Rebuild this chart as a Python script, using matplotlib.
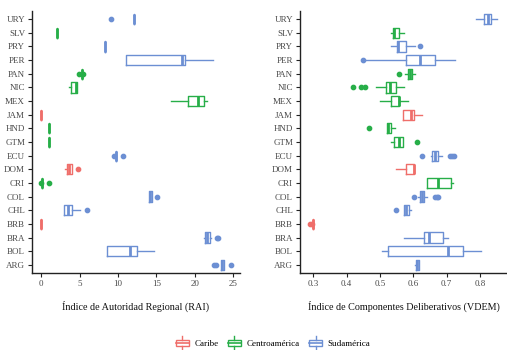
import matplotlib
matplotlib.use("Agg")
import matplotlib.pyplot as plt
from matplotlib.legend_handler import HandlerBase
from matplotlib.patches import Rectangle
from matplotlib.lines import Line2D

plt.rcParams['font.family'] = ['Liberation Serif', 'DejaVu Serif']

# categories, bottom to top
countries = ["ARG", "BOL", "BRA", "BRB", "CHL", "COL", "CRI", "DOM", "ECU", "GTM",
             "HND", "JAM", "MEX", "NIC", "PAN", "PER", "PRY", "SLV", "URY"]
region = ["Sudamérica", "Sudamérica", "Sudamérica", "Caribe", "Sudamérica", "Sudamérica",
          "Centroamérica", "Caribe", "Sudamérica", "Centroamérica", "Centroamérica", "Caribe",
          "Centroamérica", "Centroamérica", "Centroamérica", "Sudamérica", "Sudamérica",
          "Centroamérica", "Sudamérica"]
regions = ["Caribe", "Centroamérica", "Sudamérica"]
region_colors = {"Caribe": "#EF6E6A", "Centroamérica": "#27AE48", "Sudamérica": "#6C8FD3"}

# RAI box statistics
rai_q1 = [23.42, 8.57, 21.40, 0.0, 2.99, 14.06, 0.09, 3.30, 9.71, 1.01,
          1.01, 0.0, 19.11, 3.87, 5.32, 11.07, 8.26, 2.02, 12.08]
rai_med = [23.55, 11.56, 21.66, 0.0, 3.51, 14.20, 0.09, 3.60, 9.71, 1.01,
           1.01, 0.0, 20.39, 4.53, 5.32, 18.28, 8.26, 2.02, 12.08]
rai_q3 = [23.77, 12.52, 21.97, 0.0, 4.00, 14.40, 0.09, 4.00, 9.71, 1.01,
          1.01, 0.0, 21.22, 4.61, 5.32, 18.76, 8.26, 2.02, 12.08]
rai_lo = [23.42, 8.57, 21.22, 0.0, 2.99, 14.06, 0.09, 3.12, 9.71, 1.01,
          1.01, 0.0, 16.87, 3.56, 5.32, 11.07, 8.26, 2.02, 12.08]
rai_hi = [23.77, 14.72, 22.10, 0.0, 5.05, 14.40, 0.09, 4.00, 9.71, 1.01,
          1.01, 0.0, 21.66, 4.61, 5.32, 22.32, 8.26, 2.02, 12.08]
rai_out = [[22.50, 22.76, 24.74], [], [22.85, 23.00], [], [6.02], [15.07], [0.0, 1.05],
           [4.75], [9.45, 10.72], [], [], [], [], [], [4.96, 5.49], [], [], [], [9.05]]

# VDEM box statistics
vd_q1 = [0.609, 0.525, 0.632, 0.300, 0.573, 0.620, 0.641, 0.579, 0.656, 0.543,
         0.522, 0.570, 0.534, 0.517, 0.585, 0.579, 0.552, 0.540, 0.811]
vd_med = [0.611, 0.705, 0.648, 0.300, 0.577, 0.625, 0.675, 0.601, 0.664, 0.557,
          0.523, 0.593, 0.556, 0.529, 0.590, 0.621, 0.553, 0.543, 0.823]
vd_q3 = [0.617, 0.748, 0.689, 0.300, 0.588, 0.632, 0.714, 0.603, 0.674, 0.570,
         0.534, 0.603, 0.557, 0.549, 0.597, 0.666, 0.579, 0.558, 0.833]
vd_lo = [0.606, 0.507, 0.573, 0.300, 0.573, 0.614, 0.641, 0.548, 0.653, 0.534,
         0.522, 0.570, 0.501, 0.487, 0.576, 0.451, 0.534, 0.534, 0.787]
vd_hi = [0.617, 0.803, 0.705, 0.300, 0.594, 0.640, 0.720, 0.603, 0.687, 0.570,
         0.545, 0.627, 0.583, 0.571, 0.605, 0.724, 0.604, 0.571, 0.851]
vd_out = [[], [], [], [0.290, 0.295], [0.547], [0.601, 0.664, 0.670, 0.674], [], [],
          [0.625, 0.711, 0.716, 0.721], [0.612], [0.466], [], [], [0.418, 0.442, 0.454],
          [0.556], [0.450], [0.619], [], []]

W, H = 507, 350
fig = plt.figure(figsize=(W / 100, H / 100), dpi=100)
ax1 = fig.add_axes([32 / W, 1 - 273 / H, 208 / W, 262 / H])
ax2 = fig.add_axes([300 / W, 1 - 273 / H, 207 / W, 262 / H])

ink = "#222222"


def draw(ax, q1, med, q3, lo, hi, out, xlim, xticks, xticklabels, title):
    for i, c in enumerate(countries):
        col = region_colors[region[i]]
        st = dict(q1=q1[i], med=med[i], q3=q3[i], whislo=lo[i], whishi=hi[i],
                  fliers=out[i], label=c)
        ax.bxp([st], positions=[i + 1], widths=0.75, vert=False, showcaps=False,
               patch_artist=False,
               boxprops=dict(color=col, linewidth=1.0),
               whiskerprops=dict(color=col, linewidth=1.0),
               medianprops=dict(color=col, linewidth=2.0, solid_capstyle='butt'),
               flierprops=dict(marker='o', markerfacecolor=col, markeredgecolor=col,
                               markersize=3.1, linestyle='none'))
    ax.set_ylim(0.4, len(countries) + 0.6)
    ax.set_yticks(range(1, len(countries) + 1))
    ax.set_yticklabels(countries)
    ax.set_xlim(*xlim)
    ax.set_xticks(xticks)
    ax.set_xticklabels(xticklabels)
    for s in ["top", "right"]:
        ax.spines[s].set_visible(False)
    for s in ["left", "bottom"]:
        ax.spines[s].set_color(ink)
        ax.spines[s].set_linewidth(1.0)
    ax.tick_params(axis='both', length=3, width=0.8, color=ink, labelsize=6.5,
                   labelcolor="#4a4a4a", pad=2)
    ax.set_xlabel(title, fontsize=7.3, color="#111111", labelpad=9)


draw(ax1, rai_q1, rai_med, rai_q3, rai_lo, rai_hi, rai_out, (-1.2, 25.9),
     [0, 5, 10, 15, 20, 25], ["0", "5", "10", "15", "20", "25"],
     "Índice de Autoridad Regional (RAI)")
draw(ax2, vd_q1, vd_med, vd_q3, vd_lo, vd_hi, vd_out, (0.26, 0.881),
     [0.3, 0.4, 0.5, 0.6, 0.7, 0.8], ["0.3", "0.4", "0.5", "0.6", "0.7", "0.8"],
     "Índice de Componentes Deliberativos (VDEM)")


class BoxKey(HandlerBase):
    def __init__(self, color):
        super().__init__()
        self.color = color

    def create_artists(self, legend, orig_handle, xdescent, ydescent, width, height,
                       fontsize, trans):
        c = self.color
        bw = width * 0.92
        x0 = (width - bw) / 2 - xdescent
        bh = height * 0.6
        y0 = (height - bh) / 2 - ydescent
        rect = Rectangle((x0, y0), bw, bh, facecolor='white', edgecolor=c,
                         linewidth=1.0, transform=trans)
        midy = y0 + bh / 2
        medl = Line2D([x0, x0 + bw], [midy, midy], color=c, linewidth=1.2, transform=trans)
        cx = x0 + bw / 2
        wt = Line2D([cx, cx], [y0 + bh, height - ydescent + 1.5], color=c, linewidth=1.0,
                    transform=trans)
        wb = Line2D([cx, cx], [y0, -ydescent - 1.5], color=c, linewidth=1.0, transform=trans)
        return [rect, medl, wt, wb]


handles = [Rectangle((0, 0), 1, 1) for _ in regions]
hmap = {h: BoxKey(region_colors[r]) for h, r in zip(handles, regions)}
fig.legend(handles, regions, handler_map=hmap, loc='center',
           bbox_to_anchor=(273 / W, 1 - 343 / H), ncol=3, frameon=False,
           fontsize=6.5, handlelength=1.5, handleheight=1.3, handletextpad=0.6,
           columnspacing=1.0)

fig.savefig("out.png", dpi=100)
